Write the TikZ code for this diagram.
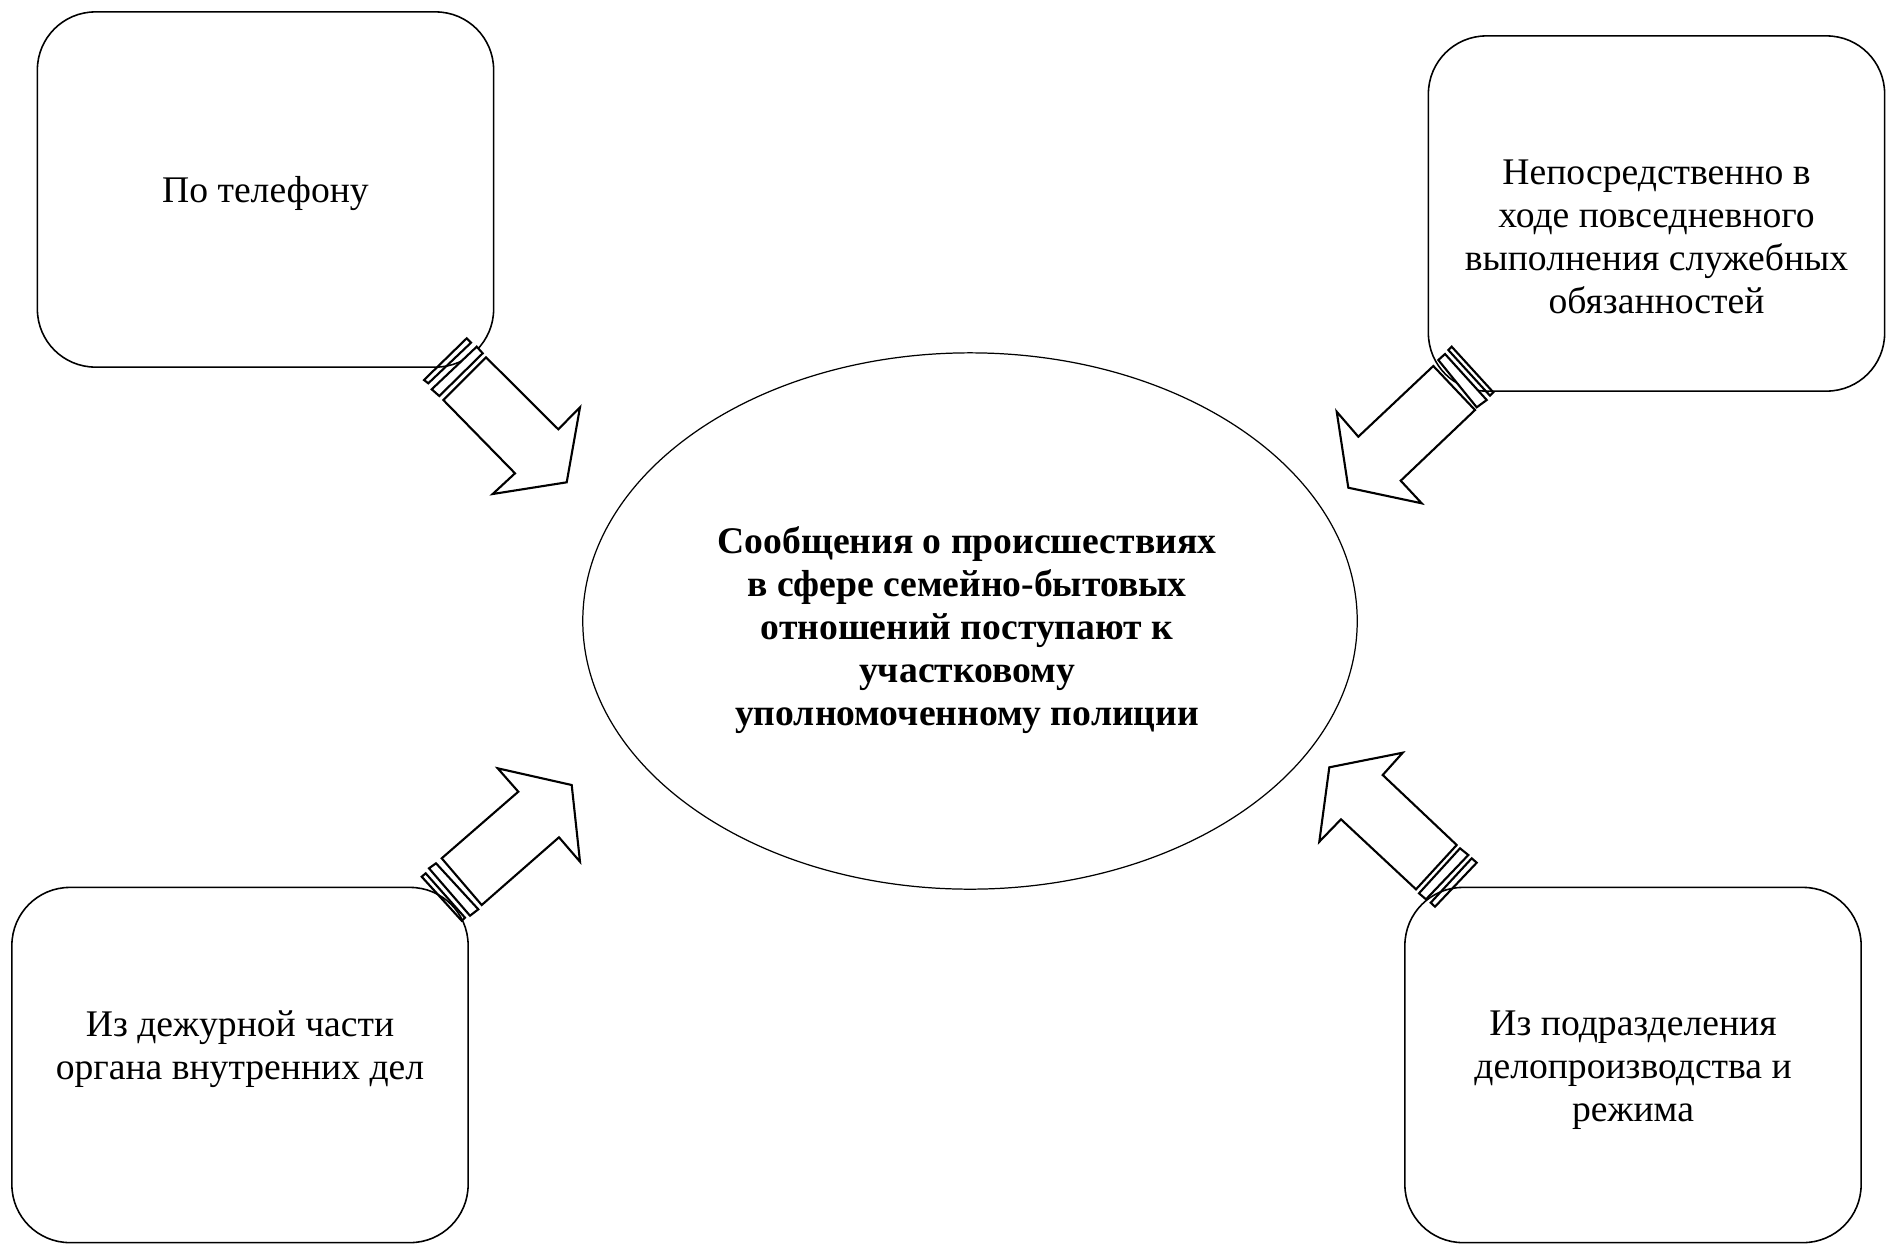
\documentclass[tikz,border=0pt]{standalone}
\usepackage{fontspec}
\setmainfont{Liberation Serif}
\usetikzlibrary{shapes.geometric}

\begin{document}
\begin{tikzpicture}[
            x = 0.01cm, y = -0.01cm, % one unit = one pixel of the page
            box/.style = {draw=black, line width=0.45pt, rounded corners=0.58cm,
                          minimum width=4.56cm, minimum height=3.55cm},
            txt/.style = {align=center, font=\fontsize{10.7}{12.2}\selectfont},
            stripe/.style = {draw=black, line width=0.6pt, line join=miter},
            body/.style = {stripe, fill=white}
        ]
\useasboundingbox (0,0) rectangle (1888,1248);

% sources
\node[box] (phone) at (265.5,189.5) {};
\node[box] (duty) at (1656.5,213.5) {};
\node[box] (desk) at (240,1065) {};
\node[box] (office) at (1633,1065) {};

\node[txt] (phonetext) at ([yshift=-0.04cm]phone.center) {По телефону};
\node[txt] (dutytext) at ([yshift=-0.23cm]duty.center) {Непосредственно в\\ходе повседневного\\выполнения служебных\\обязанностей};
\node[txt] (desktext) at ([yshift=0.155cm]desk.center) {Из дежурной части\\органа внутренних дел};
\node[txt] (officetext) at ([yshift=-0.05cm]office.center) {Из подразделения\\делопроизводства и\\режима};

% centre
\node[shape=ellipse, draw=black, line width=0.35pt, minimum width=7.74cm, minimum height=5.36cm] (msg) at (970,621) {};
\node[txt, font=\fontsize{10.7}{12.2}\selectfont\bfseries] (msgtext) at ([xshift=-0.03cm,yshift=-0.09cm]msg.center)
      {Сообщения о происшествиях\\в сфере семейно-бытовых\\отношений поступают к\\участковому\\уполномоченному полиции};

% striped arrows
\draw[stripe] (466.7,338.3) -- (471,342.7) -- (428.3,383.3) -- (424,380) -- cycle;
\draw[body] (476.7,346.7) -- (482.7,353.3) -- (439.3,396) -- (431.7,389.3) -- cycle;
\draw[body] (486,357.3) -- (558.3,429.3) -- (580,407.3) -- (566.7,482.3) -- (492.7,494)
      -- (515,473.3) -- (443.3,400) -- cycle;

\draw[stripe] (1451.7,346.7) -- (1493.3,392.3) -- (1490,395.7) -- (1448.3,350) -- cycle;
\draw[body] (1445,354) -- (1486.7,400) -- (1476.7,407.3) -- (1438.3,360) -- cycle;
\draw[body] (1433.3,366) -- (1358.3,436.7) -- (1336.7,411.7) -- (1348.3,487.7) -- (1421.7,503.3)
      -- (1400.7,480.7) -- (1475,410) -- cycle;

\draw[stripe] (425.7,873.3) -- (465,917.7) -- (461.7,920.7) -- (421.7,876.7) -- cycle;
\draw[body] (436,863.3) -- (478.3,909.3) -- (470,915.7) -- (429,868.3) -- cycle;
\draw[body] (441.7,858.3) -- (518.3,791.7) -- (497.7,768.3) -- (571.7,785) -- (580,861.7)
      -- (559,837.3) -- (481.7,905) -- cycle;

\draw[stripe] (1471.7,858.3) -- (1476.7,862.7) -- (1435,906.7) -- (1430.7,902.7) -- cycle;
\draw[body] (1460,848.3) -- (1468.3,855) -- (1426,899.3) -- (1419,893.3) -- cycle;
\draw[body] (1456.7,845) -- (1382.7,775) -- (1402.7,752.7) -- (1329.3,767.3) -- (1319.3,841.7)
      -- (1341,819.3) -- (1416,889.3) -- cycle;

\end{tikzpicture}
\end{document}
